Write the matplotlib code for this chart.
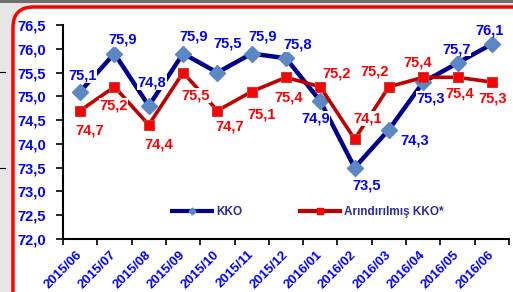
import matplotlib
matplotlib.use('Agg')
import matplotlib.pyplot as plt
from matplotlib.patches import FancyBboxPatch, Rectangle
from matplotlib.lines import Line2D

plt.rcParams['font.family'] = ['Liberation Sans', 'DejaVu Sans']
plt.rcParams['font.weight'] = 'bold'

# data
months = ['2015/06', '2015/07', '2015/08', '2015/09', '2015/10', '2015/11', '2015/12',
          '2016/01', '2016/02', '2016/03', '2016/04', '2016/05', '2016/06']
kko = [75.1, 75.9, 74.8, 75.9, 75.5, 75.9, 75.8, 74.9, 73.5, 74.3, 75.3, 75.7, 76.1]
kko_adj = [74.7, 75.2, 74.4, 75.5, 74.7, 75.1, 75.4, 75.2, 74.1, 75.2, 75.4, 75.4, 75.3]
yticks = [72.0, 72.5, 73.0, 73.5, 74.0, 74.5, 75.0, 75.5, 76.0, 76.5]

# label offsets in pixels (dx, dy), image y downward
kko_off = [(2, -16), (8, -14), (3, -23), (11, -17), (10, -29), (11, -17), (12, -14),
           (-5, 17), (12, 18), (26, 11), (7, 16), (-1, -14), (-2, -14)]
adj_off = [(10, 20), (-1, 19), (10, 20), (13, 23), (12, 16), (10, 23), (3, 20),
           (16, -13), (13, -21), (-14, -15), (-6, -15), (2, 16), (1, 16)]

W, H = 513, 292
fig = plt.figure(figsize=(W / 100, H / 100), dpi=100)
fig.patch.set_facecolor('#e6e6e6')

# top strip and red rounded frame
fig.add_artist(Rectangle((0, 1 - 2.5 / H), 1, 2.5 / H, transform=fig.transFigure,
                         facecolor='#6e6e6e', edgecolor='none', zorder=-2))
frame = FancyBboxPatch((13 / W, -20 / H), 520 / W, (H - 7 + 20) / H,
                       boxstyle='round,pad=0,rounding_size=0.04',
                       transform=fig.transFigure, facecolor='white',
                       edgecolor='#ff0000', linewidth=2.5, mutation_aspect=W / H,
                       zorder=-2)
fig.add_artist(frame)
for yy in [72, 168]:
    fig.add_artist(Line2D([0, 5 / W], [1 - yy / H, 1 - yy / H], transform=fig.transFigure,
                          color='black', linewidth=0.8, zorder=-2))

ax = fig.add_axes([63 / W, 1 - 239 / H, 446 / W, 214 / H])
ax.set_facecolor('none')
x = list(range(len(months)))

ax.plot(x, kko, color='#00008b', linewidth=3.2, marker='D', markersize=8.5,
        markerfacecolor='#5b87c5', markeredgecolor='#5b87c5', zorder=3)
ax.plot(x, kko_adj, color='#c00000', linewidth=2.6, marker='s', markersize=7.5,
        markerfacecolor='#ff0000', markeredgecolor='#c04040', markeredgewidth=0.8, zorder=3)

for i in x:
    dx, dy = kko_off[i]
    ax.annotate(f'{kko[i]:.1f}'.replace('.', ','), (i, kko[i]), xytext=(dx, -dy),
                textcoords='offset pixels', ha='center', va='center', color='#0000ff',
                fontsize=10.5, fontweight='bold', zorder=4,
                bbox=dict(facecolor='white', edgecolor='none', pad=0.3))
    dx, dy = adj_off[i]
    ax.annotate(f'{kko_adj[i]:.1f}'.replace('.', ','), (i, kko_adj[i]), xytext=(dx, -dy),
                textcoords='offset pixels', ha='center', va='center', color='#ff0000',
                fontsize=10.5, fontweight='bold', zorder=4,
                bbox=dict(facecolor='white', edgecolor='none', pad=0.3))

ax.set_xlim(-0.5, len(months) - 0.5)
ax.set_ylim(72.0, 76.5)
ax.set_yticks(yticks)
ax.set_yticklabels([f'{v:.1f}'.replace('.', ',') for v in yticks], color='#0000ff',
                   fontsize=10.5, fontweight='bold')
ax.set_xticks([i - 0.5 for i in range(len(months) + 1)])
ax.set_xticklabels([])
ax.set_xticks(x, minor=True)
ax.set_xticklabels(months, minor=True, rotation=45, ha='right', va='center',
                   rotation_mode='anchor', color='#0000ff', fontsize=9.5, fontweight='bold')
ax.tick_params(axis='x', which='minor', length=0, pad=10)
ax.tick_params(axis='x', which='major', length=4, width=1.2, direction='out')
ax.tick_params(axis='y', length=5, width=1.2, direction='out', pad=7)
for s in ['top', 'right']:
    ax.spines[s].set_visible(False)
for s in ['left', 'bottom']:
    ax.spines[s].set_linewidth(1.5)

h1 = Line2D([], [], color='#00008b', linewidth=3, marker='D', markersize=3.5,
            markerfacecolor='#5b87c5', markeredgecolor='#5b87c5')
h2 = Line2D([], [], color='#c00000', linewidth=3, marker='s', markersize=5,
            markerfacecolor='#ff0000', markeredgecolor='#ff0000')
leg = ax.legend([h1, h2], ['KKO', 'Arındırılmış KKO*'], ncol=2, frameon=False,
                loc='center left', bbox_to_anchor=(0.245, 0.126), borderpad=0,
                borderaxespad=0, handlelength=3.4, handletextpad=0.3,
                columnspacing=4.9, prop={'size': 8.5, 'weight': 'bold'})
for t in leg.get_texts():
    t.set_color('#2b2b99')

fig.savefig('out.png', dpi=100, facecolor=fig.get_facecolor())
